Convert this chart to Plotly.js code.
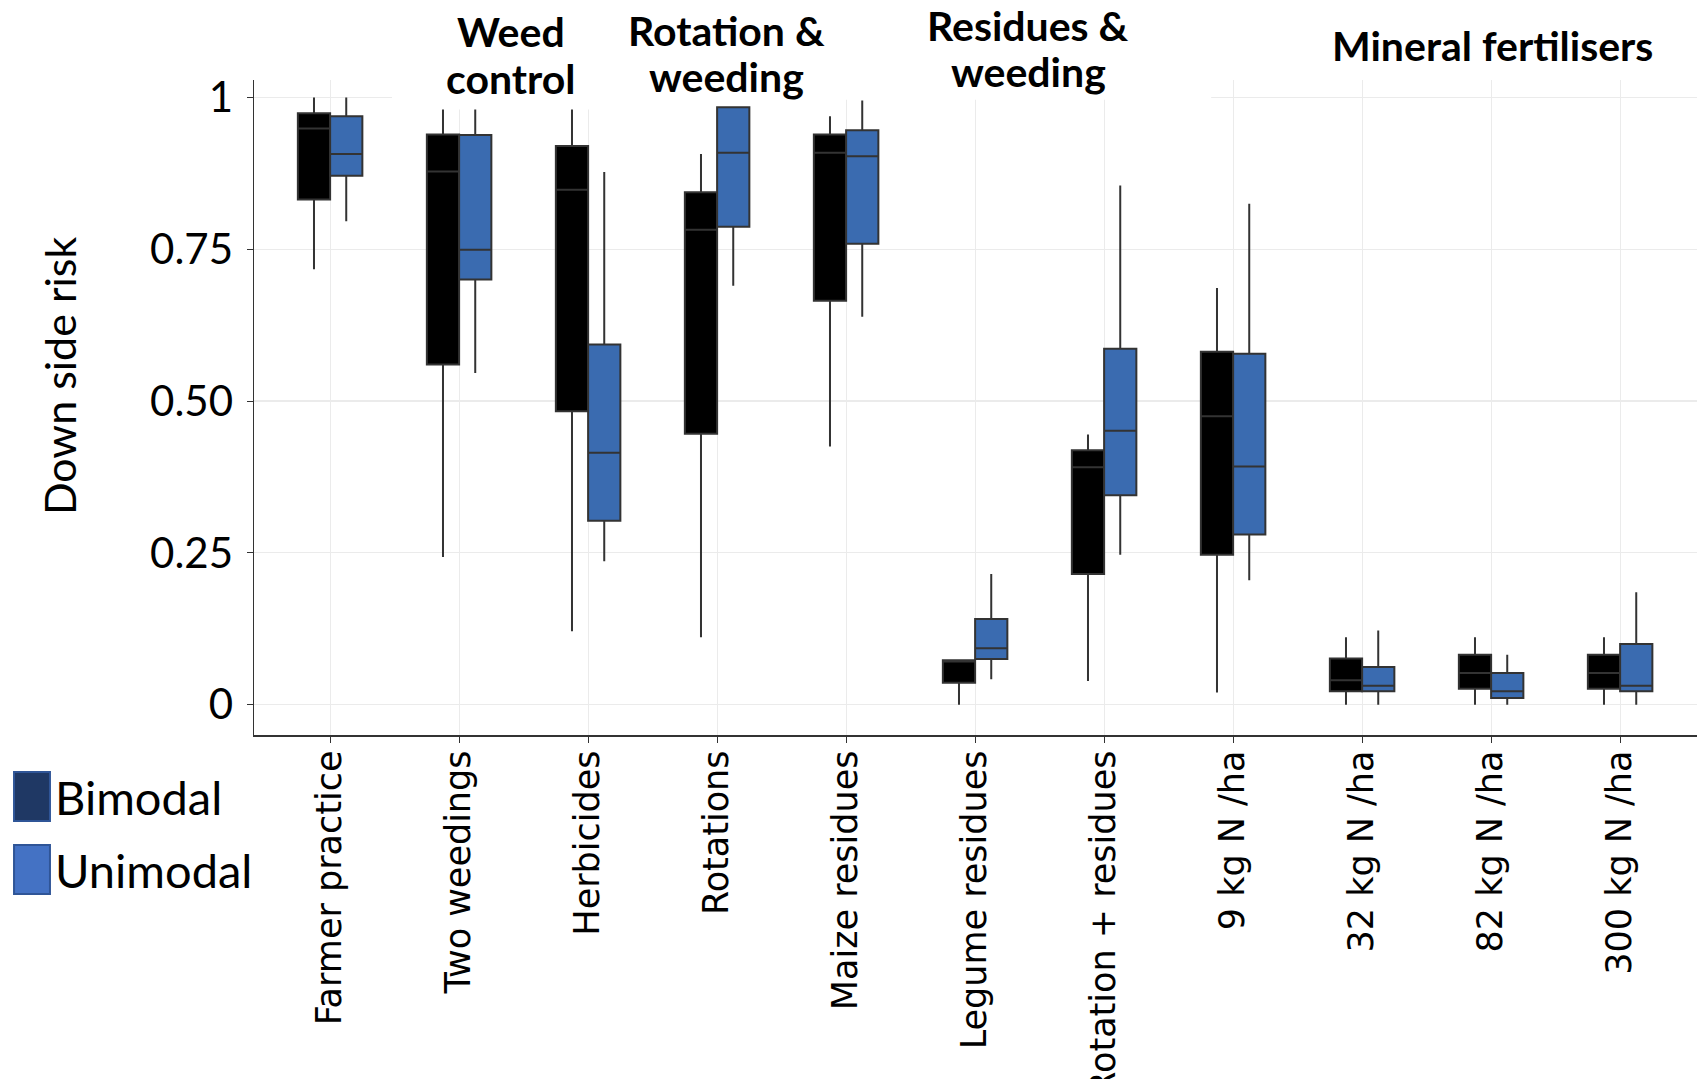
<!DOCTYPE html>
<html>
<head>
<meta charset="utf-8">
<script src="https://cdn.plot.ly/plotly-3.0.1.min.js"></script>
<style>html,body{margin:0;padding:0;background:#fff;}#chart{width:1697px;height:1079px;}</style>
</head>
<body>
<div id="chart"></div>
<script>
var categories = ["Farmer practice","Two weedings","Herbicides","Rotations","Maize residues","Legume residues","Rotation + residues","9 kg N /ha","32 kg N /ha","82 kg N /ha","300 kg N /ha"];

var bimodalLow  = [0.717, 0.243, 0.121, 0.111, 0.425, 0.000, 0.039, 0.020, 0.000, 0.000, 0.000];
var bimodalQ1   = [0.832, 0.560, 0.483, 0.446, 0.665, 0.036, 0.215, 0.247, 0.022, 0.026, 0.026];
var bimodalMed  = [0.949, 0.878, 0.848, 0.782, 0.909, 0.071, 0.391, 0.475, 0.040, 0.052, 0.052];
var bimodalQ3   = [0.974, 0.939, 0.920, 0.844, 0.939, 0.073, 0.419, 0.581, 0.076, 0.082, 0.082];
var bimodalHigh = [1.000, 0.980, 0.980, 0.907, 0.969, 0.073, 0.445, 0.686, 0.111, 0.111, 0.111];

var unimodalLow  = [0.796, 0.546, 0.236, 0.690, 0.639, 0.042, 0.247, 0.205, 0.000, 0.000, 0.000];
var unimodalQ1   = [0.871, 0.700, 0.303, 0.787, 0.759, 0.075, 0.345, 0.280, 0.022, 0.011, 0.022];
var unimodalMed  = [0.907, 0.749, 0.415, 0.909, 0.903, 0.093, 0.451, 0.392, 0.031, 0.022, 0.031];
var unimodalQ3   = [0.969, 0.938, 0.593, 0.984, 0.946, 0.141, 0.586, 0.578, 0.062, 0.052, 0.100];
var unimodalHigh = [1.000, 0.980, 0.877, 0.984, 0.995, 0.215, 0.855, 0.825, 0.122, 0.082, 0.185];

var yTickVals = [0, 0.25, 0.5, 0.75, 1];
var yTickText = ["0", "0.25", "0.50", "0.75", "1"];

var groupLabels = ["Weed", "control", "Rotation &", "weeding", "Residues &", "weeding", "Mineral fertilisers"];
var seriesNames = ["Bimodal", "Unimodal"];
var yTitle = "Down side risk";

// label placement (layout only)
var groupLabelX = [1.40, 1.40, 3.07, 3.07, 5.41, 5.41, 9.01];
var groupLabelY = [1.0733, 1.0023, 1.0756, 1.0053, 1.0832, 1.0130, 1.0527];

function boxTrace(name, low, q1, med, q3, high, fill) {
  return {
    type: 'box', name: name, x: categories,
    lowerfence: low, q1: q1, median: med, q3: q3, upperfence: high,
    fillcolor: fill, line: {color: '#333333', width: 2},
    whiskerwidth: 0, boxpoints: false, showlegend: false,
    hoverinfo: 'skip'
  };
}

var data = [
  boxTrace(seriesNames[0], bimodalLow, bimodalQ1, bimodalMed, bimodalQ3, bimodalHigh, '#000000'),
  boxTrace(seriesNames[1], unimodalLow, unimodalQ1, unimodalMed, unimodalQ3, unimodalHigh, '#3a6bb0')
];

var annotations = groupLabels.map(function(t, i) {
  return {
    text: '<b>' + t + '</b>', x: groupLabelX[i], y: groupLabelY[i],
    xref: 'x', yref: 'paper', xanchor: 'center', yanchor: 'middle',
    showarrow: false, align: 'center', borderpad: 0,
    font: {family: 'Lato, sans-serif', size: 41, color: '#000'}
  };
});
annotations.push({text: seriesNames[0], xref: 'paper', yref: 'paper', x: -0.1396, y: -0.0947,
  xanchor: 'left', yanchor: 'middle', showarrow: false,
  font: {family: 'Lato, sans-serif', size: 47, color: '#000'}});
annotations.push({text: seriesNames[1], xref: 'paper', yref: 'paper', x: -0.1396, y: -0.206,
  xanchor: 'left', yanchor: 'middle', showarrow: false,
  font: {family: 'Lato, sans-serif', size: 47, color: '#000'}});
annotations.push({text: yTitle, xref: 'paper', yref: 'paper', x: -0.1348, y: 0.5487,
  xanchor: 'center', yanchor: 'middle', textangle: -90, showarrow: false,
  font: {family: 'Lato, sans-serif', size: 43, color: '#000'}});

var shapes = [
  {type: 'rect', layer: 'between', xref: 'x', yref: 'y', x0: 0.48, x1: 3.6, y0: 0.98, y1: 1.04,
   fillcolor: '#ffffff', line: {width: 0}},
  {type: 'rect', layer: 'between', xref: 'x', yref: 'y', x0: 3.6, x1: 6.83, y0: 0.996, y1: 1.04,
   fillcolor: '#ffffff', line: {width: 0}},
  {type: 'rect', xref: 'paper', yref: 'paper', x0: -0.1663, x1: -0.1414, y0: -0.1313, y1: -0.0565,
   fillcolor: '#1f3864', line: {color: '#2f5597', width: 2}},
  {type: 'rect', xref: 'paper', yref: 'paper', x0: -0.1663, x1: -0.1414, y0: -0.2427, y1: -0.1679,
   fillcolor: '#4472c4', line: {color: '#2f5597', width: 2}}
];

var layout = {
  width: 1697, height: 1079,
  margin: {l: 254, r: 0, t: 80, b: 344},
  paper_bgcolor: '#ffffff', plot_bgcolor: '#ffffff',
  boxmode: 'group', boxgap: 0.5, boxgroupgap: 0,
  showlegend: false,
  xaxis: {
    type: 'category', range: [-0.59, 10.596], fixedrange: true,
    showline: true, linecolor: '#333333', linewidth: 1.5,
    ticks: 'outside', ticklen: 6, tickcolor: '#333333', tickwidth: 1,
    showgrid: true, gridcolor: '#ebebeb', gridwidth: 1.2, zeroline: false,
    tickangle: -90, ticklabelstandoff: -6,
    tickfont: {family: 'DejaVu Sans, sans-serif', size: 35, color: '#000'}
  },
  yaxis: {
    range: [-0.05, 1.0287], fixedrange: true,
    tickvals: yTickVals, ticktext: yTickText,
    showline: true, linecolor: '#333333', linewidth: 1.5,
    ticks: 'outside', ticklen: 6, tickcolor: '#333333', tickwidth: 1,
    showgrid: true, gridcolor: '#ebebeb', gridwidth: 1.2, zeroline: false,
    ticklabelstandoff: 5,
    tickfont: {family: 'Lato, sans-serif', size: 42, color: '#000'}
  },
  annotations: annotations,
  shapes: shapes
};

Plotly.newPlot('chart', data, layout, {displayModeBar: false, staticPlot: true});
</script>
</body>
</html>
